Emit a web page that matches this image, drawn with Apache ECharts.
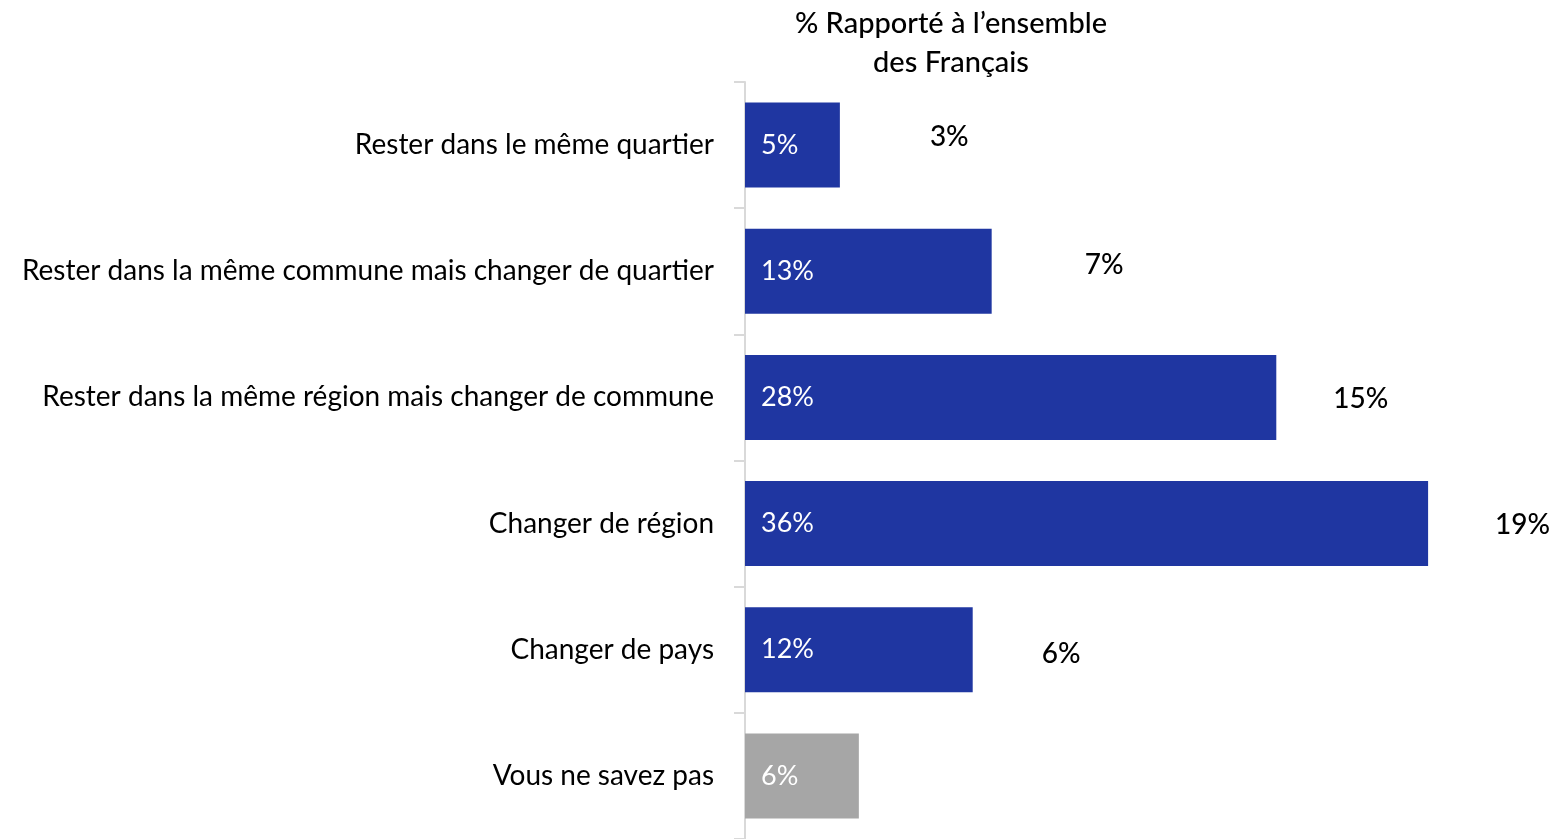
<!DOCTYPE html>
<html>
<head>
<meta charset="utf-8">
<script src="https://cdn.jsdelivr.net/npm/echarts@6/dist/echarts.min.js"></script>
<style>
  html, body { margin: 0; padding: 0; background: #fff; }
  #chart { width: 1558px; height: 839px; }
</style>
</head>
<body>
<div id="chart"></div>
<script>
// catégories (de haut en bas)
const categories = [
  'Rester dans le même quartier',
  'Rester dans la même commune mais changer de quartier',
  'Rester dans la même région mais changer de commune',
  'Changer de région',
  'Changer de pays',
  'Vous ne savez pas'
];
// % parmi les répondants concernés
const sharePct = [5, 13, 28, 36, 12, 6];
// % rapporté à l'ensemble des Français
const allFrenchPct = [3, 7, 15, 19, 6, null];

const titleLines = ['% Rapporté à l’ensemble', 'des Français'];

// placement des étiquettes de droite (écart au bout de la barre, décalage vertical)
const sideLabelShift = [[90, -8], [93, -6], [57, 2], [67, 1], [69, 4], [0, 0]];

const FONT = 'Lato, "Open Sans", sans-serif';
const BLUE = '#1f36a1';
const GREY = '#a6a6a6';

const chart = echarts.init(document.getElementById('chart'));

const option = {
  animation: false,
  textStyle: { fontFamily: FONT },
  graphic: [{
    type: 'text',
    x: 951,
    y: 4,
    style: {
      text: titleLines.join('\n'),
      font: '500 29px ' + FONT,
      fill: '#000',
      align: 'center',
      verticalAlign: 'top',
      lineHeight: 39
    }
  }],
  // l'axe déborde un peu sous le bas de l'image
  grid: { left: 745, width: 759, top: 82, height: 761 },
  xAxis: {
    type: 'value',
    min: 0,
    max: 40,
    show: false,
    splitLine: { show: false }
  },
  yAxis: {
    type: 'category',
    inverse: true,
    data: categories,
    axisLine: { show: true, lineStyle: { color: '#d9d9d9', width: 2 } },
    axisTick: { show: true, length: 11, lineStyle: { color: '#d9d9d9', width: 2 } },
    axisLabel: { color: '#000', fontSize: 28, margin: 31, fontFamily: FONT }
  },
  series: [
    {
      type: 'bar',
      barWidth: 85,
      data: sharePct.map((v, i) => ({
        value: v,
        itemStyle: { color: i === categories.length - 1 ? GREY : BLUE }
      })),
      label: {
        show: true,
        position: 'insideLeft',
        distance: 16,
        color: '#fff',
        fontSize: 27,
        fontFamily: FONT,
        formatter: p => p.value + '%'
      },
      z: 3
    },
    {
      type: 'bar',
      barWidth: 85,
      barGap: '-100%',
      silent: true,
      itemStyle: { color: 'rgba(0,0,0,0)' },
      data: sharePct.map((v, i) => ({
        value: v,
        label: { offset: [sideLabelShift[i][0], sideLabelShift[i][1]] }
      })),
      label: {
        show: true,
        position: 'right',
        distance: 0,
        color: '#000',
        fontSize: 28,
        fontWeight: 500,
        fontFamily: FONT,
        formatter: p => allFrenchPct[p.dataIndex] == null ? '' : allFrenchPct[p.dataIndex] + '%'
      },
      z: 2
    }
  ]
};

chart.setOption(option);
</script>
</body>
</html>
